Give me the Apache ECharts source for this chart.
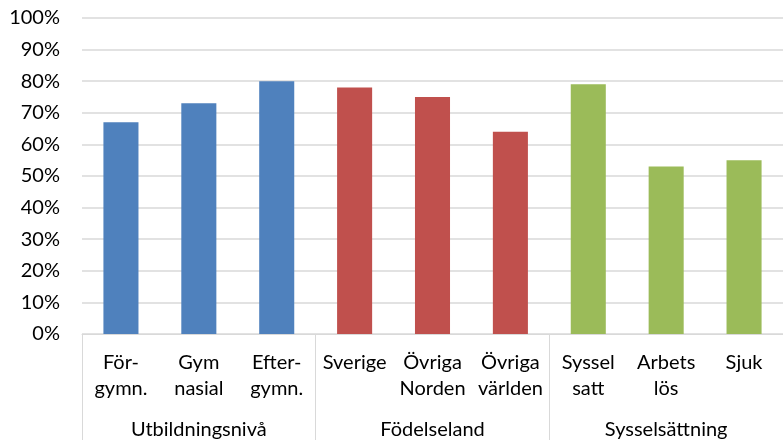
<!DOCTYPE html>
<html>
<head>
<meta charset="utf-8">
<script src="https://cdn.jsdelivr.net/npm/echarts@6/dist/echarts.min.js"></script>
<style>
  html, body { margin: 0; padding: 0; background: #fff; }
  #chart { width: 783px; height: 440px; }
</style>
</head>
<body>
<div id="chart"></div>
<script>
// category labels (two lines each) and values in percent
const categories = ['För-\ngymn.', 'Gym\nnasial', 'Efter-\ngymn.', 'Sverige', 'Övriga\nNorden', 'Övriga\nvärlden', 'Syssel\nsatt', 'Arbets\nlös', 'Sjuk']
const values = [67, 73, 80, 78, 75, 64, 79, 53, 55]
const groupOf = [0, 0, 0, 1, 1, 1, 2, 2, 2]
const groups = ['Utbildningsnivå', 'Födelseland', 'Sysselsättning']
const groupColors = ['#4F81BD', '#C0504D', '#9BBB59']
const yTicks = [0, 10, 20, 30, 40, 50, 60, 70, 80, 90, 100]

const font = 'Lato, sans-serif'

const chart = echarts.init(document.getElementById('chart'))
chart.setOption({
  animation: false,
  grid: {
    left: 82,
    right: -7,
    top: 18,
    bottom: 106,
    containLabel: false
  },
  xAxis: [
    {
      type: 'category',
      data: categories,
      position: 'bottom',
      axisLine: { show: true, lineStyle: { color: '#d9d9d9', width: 1 } },
      axisTick: { show: false },
      axisLabel: {
        interval: 0,
        margin: 16,
        color: '#000',
        fontFamily: font,
        fontSize: 20,
        lineHeight: 26
      }
    },
    {
      type: 'category',
      data: groups,
      position: 'bottom',
      boundaryGap: true,
      axisLine: { show: false },
      axisTick: {
        show: true,
        interval: 0,
        length: 106,
        lineStyle: { color: '#d9d9d9', width: 1 }
      },
      axisLabel: {
        interval: 0,
        margin: 86,
        color: '#000',
        fontFamily: font,
        fontSize: 20
      }
    }
  ],
  yAxis: {
    type: 'value',
    min: yTicks[0],
    max: yTicks[yTicks.length - 1],
    interval: 10,
    axisLine: { show: false },
    axisTick: { show: false },
    splitLine: { lineStyle: { color: '#d9d9d9', width: 1.5 } },
    axisLabel: {
      margin: 22,
      color: '#000',
      fontFamily: font,
      fontSize: 20,
      formatter: '{value}%'
    }
  },
  series: [
    {
      type: 'bar',
      xAxisIndex: 0,
      barWidth: '45%',
      data: values.map((v, i) => ({
        value: v,
        itemStyle: { color: groupColors[groupOf[i]] }
      }))
    }
  ]
})
</script>
</body>
</html>
